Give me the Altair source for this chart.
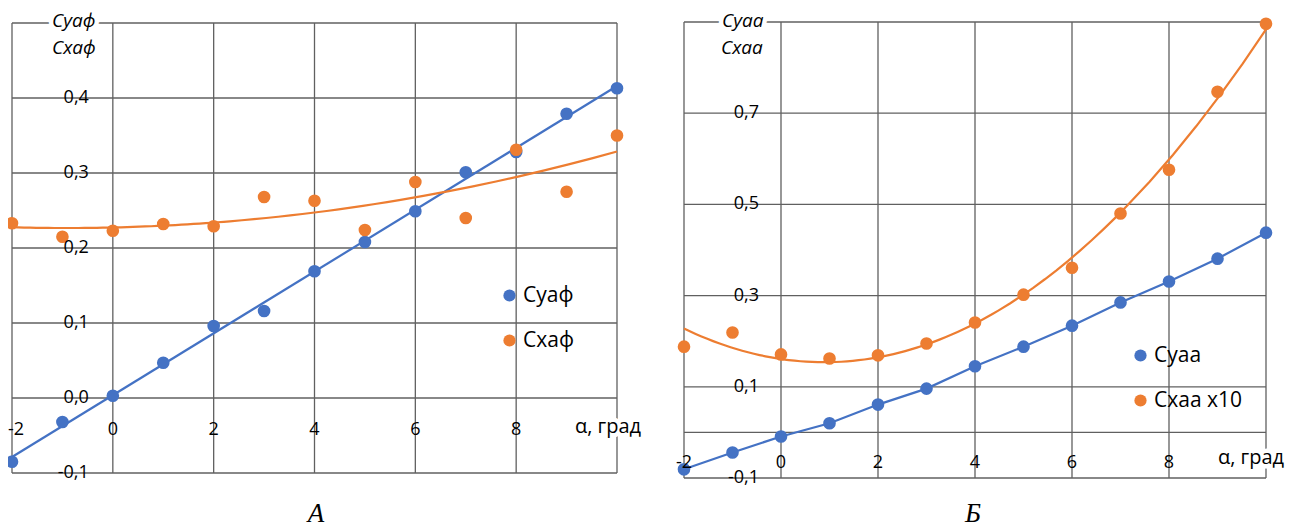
import altair as alt
import pandas as pd

# ---------------- data ----------------
alpha = [-2, -1, 0, 1, 2, 3, 4, 5, 6, 7, 8, 9, 10]
# Panel А
cy_f = [-0.085, -0.032, 0.003, 0.047, 0.096, 0.116, 0.169, 0.208, 0.249, 0.301, 0.328, 0.379, 0.413]
cx_f = [0.233, 0.215, 0.223, 0.232, 0.229, 0.268, 0.263, 0.224, 0.288, 0.240, 0.331, 0.275, 0.350]
# Panel Б
cy_a = [-0.081, -0.044, -0.009, 0.020, 0.061, 0.096, 0.145, 0.188, 0.234, 0.285, 0.331, 0.381, 0.438]
cx_a10 = [0.188, 0.219, 0.171, 0.162, 0.169, 0.195, 0.241, 0.302, 0.361, 0.480, 0.576, 0.747, 0.896]

series_A = ["Суаф", "Схаф"]
series_B = ["Суаа", "Схаа x10"]

x_grid = [-2, 0, 2, 4, 6, 8, 10]
x_label_vals = [-2, 0, 2, 4, 6, 8]
x_label_txt = ["-2", "0", "2", "4", "6", "8"]

yA_grid = [-0.1, 0.0, 0.1, 0.2, 0.3, 0.4, 0.5]
yA_label_vals = [-0.1, 0.0, 0.1, 0.2, 0.3, 0.4]
yA_label_txt = ["-0,1", "0,0", "0,1", "0,2", "0,3", "0,4"]

yB_grid = [-0.1, 0.0, 0.1, 0.3, 0.5, 0.7, 0.9]
yB_label_vals = [-0.1, 0.1, 0.3, 0.5, 0.7]
yB_label_txt = ["-0,1", "0,1", "0,3", "0,5", "0,7"]

BLUE = "#4472C4"
ORANGE = "#ED7D31"
GRID = "#606060"
FONT = "Open Sans"

# ---------------- scales ----------------
XA = alt.Scale(domain=[-2, 10], range=[4, 609], nice=False, zero=False)
YA = alt.Scale(domain=[-0.1, 0.5], range=[465, 15], nice=False, zero=False)
XB = alt.Scale(domain=[-2, 10], range=[676, 1258], nice=False, zero=False)
YB = alt.Scale(domain=[-0.1, 0.9], range=[470, 14], nice=False, zero=False)


def X(field, sc):
    return alt.X(field, type="quantitative", scale=sc, axis=None)


def Y(field, sc):
    return alt.Y(field, type="quantitative", scale=sc, axis=None)


def panel(xs, ys, ygrid, ylab_vals, ylab_txt, s_names, s1, s2, legend_xy, ydx, xdy,
          blue_mode, first_left):
    layers = []
    vgrid = pd.DataFrame({"v": x_grid, "lo": min(ygrid), "hi": max(ygrid)})
    hgrid = pd.DataFrame({"v": ygrid, "lo": -2, "hi": 10})
    layers.append(alt.Chart(vgrid).mark_rule(color=GRID, strokeWidth=1.3).encode(
        x=X("v", xs), y=Y("lo", ys), y2="hi"))
    layers.append(alt.Chart(hgrid).mark_rule(color=GRID, strokeWidth=1.3).encode(
        y=Y("v", ys), x=X("lo", xs), x2="hi"))

    df = pd.DataFrame({
        "alpha": alpha * 2,
        "value": s1 + s2,
        "series": [s_names[0]] * len(alpha) + [s_names[1]] * len(alpha),
    })
    base = alt.Chart(df)
    if blue_mode == "linear":
        bl = base.transform_filter(alt.datum.series == s_names[0]).transform_regression(
            "alpha", "value", method="linear", extent=[-2, 10])
    else:
        bl = base.transform_filter(alt.datum.series == s_names[0])
    layers.append(bl.mark_line(color=BLUE, strokeWidth=2.2).encode(
        x=X("alpha", xs), y=Y("value", ys)))
    ol = base.transform_filter(alt.datum.series == s_names[1]).transform_regression(
        "alpha", "value", method="poly", order=2, extent=[-2, 10])
    layers.append(ol.mark_line(color=ORANGE, strokeWidth=2.2).encode(
        x=X("alpha", xs), y=Y("value", ys)))
    layers.append(base.mark_circle(size=160, opacity=1).encode(
        x=X("alpha", xs), y=Y("value", ys),
        color=alt.Color("series:N", scale=alt.Scale(domain=s_names, range=[BLUE, ORANGE]),
                        legend=alt.Legend(orient="none", legendX=legend_xy[0], legendY=legend_xy[1],
                                          title=None, symbolType="circle", symbolSize=150,
                                          symbolStrokeWidth=0, labelFontSize=21, labelFont=FONT,
                                          labelColor="black", rowPadding=23, labelOffset=3,
                                          padding=0)),
    ))

    xl = pd.DataFrame({"v": x_label_vals, "t": x_label_txt, "z": 0})
    if first_left:
        layers.append(alt.Chart(xl.iloc[1:]).mark_text(
            dy=xdy, fontSize=18, font=FONT, color="black", baseline="middle", align="center").encode(
            x=X("v", xs), y=Y("z", ys), text="t:N"))
        layers.append(alt.Chart(xl.iloc[:1]).mark_text(
            dy=xdy, dx=-4, fontSize=18, font=FONT, color="black", baseline="middle", align="left").encode(
            x=X("v", xs), y=Y("z", ys), text="t:N"))
    else:
        layers.append(alt.Chart(xl).mark_text(
            dy=xdy, fontSize=18, font=FONT, color="black", baseline="middle", align="center").encode(
            x=X("v", xs), y=Y("z", ys), text="t:N"))
    yl = pd.DataFrame({"v": ylab_vals, "t": ylab_txt, "z": 0})
    layers.append(alt.Chart(yl).mark_text(dx=ydx, fontSize=18, font=FONT, color="black",
                                          baseline="middle", align="right").encode(
        y=Y("v", ys), x=X("z", xs), text="t:N"))
    return layers


layersA = panel(XA, YA, yA_grid, yA_label_vals, yA_label_txt, series_A, cy_f, cx_f,
                (491, 277), -24, 32, "linear", True)
layersB = panel(XB, YB, yB_grid, yB_label_vals, yB_label_txt, series_B, cy_a, cx_a10,
                (1122, 337), -22, 31, "points", False)

# ---------------- annotations ----------------
ann = pd.DataFrame({
    "t": ["Суаф", "Схаф", "Суаа", "Схаа", "α, град", "α, град"],
    "px": [44, 44, 714, 713, 600, 1243],
    "py": [13, 40, 13, 40, 419, 450],
    "al": ["left", "left", "left", "left", "center", "center"],
    "it": ["italic", "italic", "italic", "italic", "normal", "normal"],
    "fs": [19, 19, 19, 19, 20, 20],
})

bg_layers = []
fg_layers = []
for i, r in ann.iterrows():
    sub = ann.iloc[[i]]
    bg_layers.append(alt.Chart(sub).mark_text(
        align=r["al"], baseline="middle", fontSize=int(r["fs"]), font=FONT, fontStyle=r["it"],
        fill="white", stroke="white", strokeWidth=9).encode(
        x=alt.value(int(r["px"])), y=alt.value(int(r["py"])), text="t:N"))
    fg_layers.append(alt.Chart(sub).mark_text(
        align=r["al"], baseline="middle", fontSize=int(r["fs"]), font=FONT, fontStyle=r["it"],
        color="black").encode(
        x=alt.value(int(r["px"])), y=alt.value(int(r["py"])), text="t:N"))

letters = pd.DataFrame({"t": ["А", "Б"], "px": [308, 965], "py": [514, 514]})
for i, r in letters.iterrows():
    fg_layers.append(alt.Chart(letters.iloc[[i]]).mark_text(
        align="center", baseline="alphabetic", fontSize=27, font="Liberation Serif",
        fontStyle="italic", color="black").encode(
        x=alt.value(int(r["px"])), y=alt.value(int(r["py"])), text="t:N"))

gridA, restA = layersA[:2], layersA[2:]
gridB, restB = layersB[:2], layersB[2:]
all_layers = gridA + gridB + bg_layers + restA + restB + fg_layers

chart = alt.layer(*all_layers).resolve_scale(
    x="independent", y="independent", color="independent"
).properties(
    width=1283, height=515, padding=0,
    autosize=alt.AutoSizeParams(type="none"),
).configure_view(stroke=None)

chart.save("out.html", embed_options={"renderer": "svg", "actions": False})
